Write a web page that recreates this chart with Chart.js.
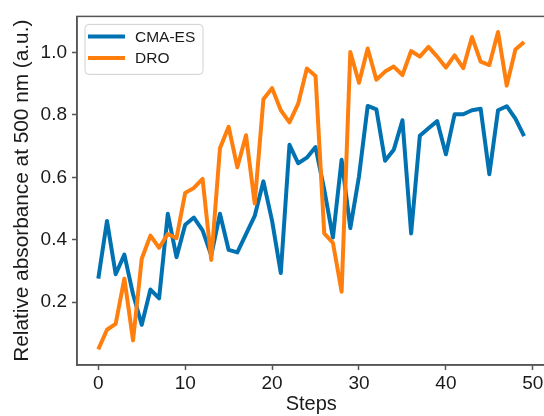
<!DOCTYPE html>
<html>
<head>
<meta charset="utf-8">
<script src="https://cdn.jsdelivr.net/npm/chart.js@4.4.1/dist/chart.umd.min.js"></script>
<style>
  html, body { margin: 0; padding: 0; background: white; overflow: hidden; }
  #wrap { width: 544px; height: 416px; overflow: hidden; }
</style>
</head>
<body>
<div id="wrap"><canvas id="myChart" width="560" height="416"></canvas></div>
<script>
// data
const steps = [0, 1, 2, 3, 4, 5, 6, 7, 8, 9, 10, 11, 12, 13, 14, 15, 16, 17, 18, 19,
    20, 21, 22, 23, 24, 25, 26, 27, 28, 29, 30, 31, 32, 33, 34, 35, 36, 37, 38, 39,
    40, 41, 42, 43, 44, 45, 46, 47, 48, 49];
const cmaes = [0.275, 0.46, 0.289, 0.352, 0.225, 0.127, 0.240, 0.212, 0.483, 0.344,
    0.448, 0.471, 0.43, 0.35, 0.483, 0.367, 0.359, 0.418, 0.476, 0.587,
    0.46, 0.293, 0.704, 0.645, 0.663, 0.697, 0.56, 0.407, 0.656, 0.437,
    0.603, 0.829, 0.818, 0.653, 0.688, 0.783, 0.42, 0.733, 0.757, 0.78,
    0.674, 0.802, 0.802, 0.815, 0.82, 0.61, 0.815, 0.828, 0.788, 0.732];
const dro = [0.048, 0.111, 0.130, 0.275, 0.077, 0.339, 0.413, 0.374, 0.418, 0.405,
    0.55, 0.566, 0.595, 0.335, 0.693, 0.762, 0.632, 0.735, 0.516, 0.85,
    0.886, 0.815, 0.776, 0.836, 0.949, 0.925, 0.42, 0.39, 0.233, 1.002,
    0.903, 1.013, 0.913, 0.939, 0.955, 0.928, 1.005, 0.987, 1.018, 0.987,
    0.952, 0.991, 0.95, 1.05, 0.971, 0.96, 1.066, 0.894, 1.01, 1.034];
const xTicks = [0, 10, 20, 30, 40, 50];
const yTicks = [0.2, 0.4, 0.6, 0.8, 1.0];

const BLUE = '#0072b2';
const ORANGE = '#ff7f0e';
const SPINE = '#555555';
const FONT = "'Liberation Sans', Arial, sans-serif";

// box around the plot + legend in the upper left, like matplotlib
const frameAndLegend = {
    id: 'frameAndLegend',
    afterDraw(chart) {
        const ctx = chart.ctx;
        const a = chart.chartArea;
        ctx.save();
        ctx.strokeStyle = SPINE;
        ctx.lineWidth = 1.5;
        ctx.strokeRect(a.left, a.top, a.right - a.left, a.bottom - a.top);

        // legend
        const x = a.left + 8, y = a.top + 8, w = 118, h = 50;
        ctx.beginPath();
        ctx.roundRect(x, y, w, h, 4);
        ctx.fillStyle = 'rgba(255,255,255,0.8)';
        ctx.fill();
        ctx.strokeStyle = '#d0d0d0';
        ctx.lineWidth = 1;
        ctx.stroke();
        ctx.font = '15.5px ' + FONT;
        ctx.textBaseline = 'middle';
        const items = [chart.data.datasets[1], chart.data.datasets[0]];
        items.forEach((ds, k) => {
            const cy = y + 12 + k * 21.5;
            ctx.beginPath();
            ctx.moveTo(x + 3, cy);
            ctx.lineTo(x + 40, cy);
            ctx.strokeStyle = ds.borderColor;
            ctx.lineWidth = 4;
            ctx.stroke();
            ctx.fillStyle = '#1a1a1a';
            ctx.fillText(ds.label, x + 50, cy + 1);
        });
        ctx.restore();
    }
};

const data = {
    datasets: [{
        label: 'DRO',
        data: steps.map((s, i) => ({ x: s, y: dro[i] })),
        borderColor: ORANGE,
        borderWidth: 4,
        order: 0
    }, {
        label: 'CMA-ES',
        data: steps.map((s, i) => ({ x: s, y: cmaes[i] })),
        borderColor: BLUE,
        borderWidth: 4,
        order: 1
    }]
};

const config = {
    type: 'line',
    data,
    options: {
        responsive: false,
        animation: false,
        devicePixelRatio: 1,
        layout: { padding: { left: 0, top: 14, right: 14.6, bottom: 0 } },
        elements: {
            point: { radius: 0 },
            line: { tension: 0, borderJoinStyle: 'round', fill: false }
        },
        plugins: {
            legend: { display: false },
            tooltip: { enabled: false }
        },
        scales: {
            x: {
                type: 'linear',
                min: -2.45,
                max: 51.45,
                afterBuildTicks: s => { s.ticks = xTicks.map(v => ({ value: v })); },
                afterFit: s => { s.height = 51; },
                grid: { drawOnChartArea: false, tickLength: 5, tickColor: SPINE, tickWidth: 1.5 },
                border: { color: SPINE, width: 1.5 },
                ticks: { color: '#1a1a1a', font: { family: FONT, size: 19 }, padding: 2, maxRotation: 0 },
                title: { display: true, text: 'Steps', color: '#1a1a1a', font: { family: FONT, size: 20 }, padding: { top: 0, bottom: 0 } }
            },
            y: {
                min: -0.002,
                max: 1.116,
                afterBuildTicks: s => { s.ticks = yTicks.map(v => ({ value: v })); },
                afterFit: s => { s.width = 77; },
                grid: { drawOnChartArea: false, tickLength: 5, tickColor: SPINE, tickWidth: 1.5 },
                border: { color: SPINE, width: 1.5 },
                ticks: { color: '#1a1a1a', font: { family: FONT, size: 19 }, padding: 5, callback: v => v.toFixed(1) },
                title: { display: true, text: 'Relative absorbance at 500 nm (a.u.)', color: '#1a1a1a', font: { family: FONT, size: 20.8 }, padding: { top: 10, bottom: 0 } }
            }
        }
    },
    plugins: [frameAndLegend]
};

const myChart = new Chart(document.getElementById('myChart'), config);
</script>
</body>
</html>
